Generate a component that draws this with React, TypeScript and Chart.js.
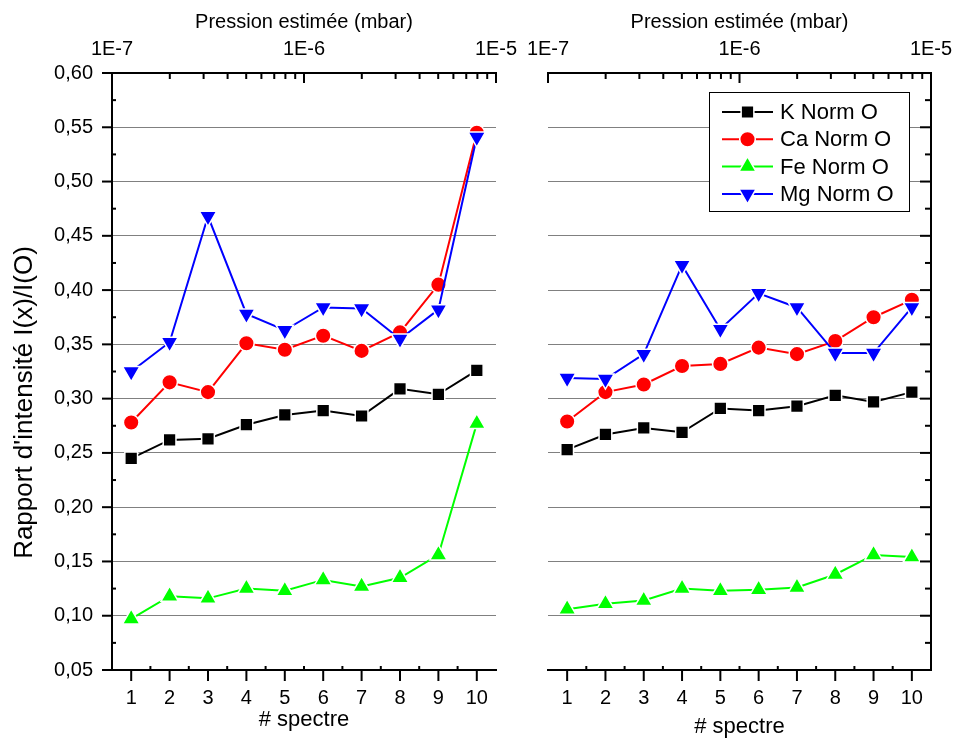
import React, { useEffect, useRef } from 'react';
import { Chart, registerables } from 'chart.js';

Chart.register(...registerables);

// ---------- data ----------
const SPECTRA = [1, 2, 3, 4, 5, 6, 7, 8, 9, 10];
const SERIES_NAMES = ['K Norm O', 'Ca Norm O', 'Fe Norm O', 'Mg Norm O'];

const LEFT_K = [0.245, 0.262, 0.263, 0.276, 0.285, 0.289, 0.284, 0.309, 0.304, 0.326];
const LEFT_CA = [0.278, 0.315, 0.306, 0.351, 0.345, 0.358, 0.344, 0.361, 0.405, 0.545];
const LEFT_FE = [0.097, 0.118, 0.116, 0.125, 0.123, 0.133, 0.127, 0.135, 0.156, 0.277];
const LEFT_MG = [0.325, 0.352, 0.468, 0.378, 0.363, 0.384, 0.383, 0.355, 0.382, 0.541];

const RIGHT_K = [0.253, 0.267, 0.273, 0.269, 0.291, 0.289, 0.293, 0.303, 0.297, 0.306];
const RIGHT_CA = [0.279, 0.306, 0.313, 0.330, 0.332, 0.347, 0.341, 0.353, 0.375, 0.391];
const RIGHT_FE = [0.106, 0.111, 0.114, 0.125, 0.123, 0.124, 0.126, 0.138, 0.156, 0.154];
const RIGHT_MG = [0.319, 0.318, 0.341, 0.423, 0.364, 0.397, 0.384, 0.342, 0.342, 0.384];

const Y_TICKS = [0.05, 0.1, 0.15, 0.2, 0.25, 0.3, 0.35, 0.4, 0.45, 0.5, 0.55, 0.6];
const Y_MIN = 0.05;
const Y_MAX = 0.6;
const PRESSURE_MIN = 1e-7;
const PRESSURE_MAX = 1e-5;
const PRESSURE_TICKS = [1e-7, 1e-6, 1e-5];
const PRESSURE_LABELS = ['1E-7', '1E-6', '1E-5'];

const X_TITLE = '# spectre';
const TOP_TITLE = 'Pression estimée (mbar)';
const Y_TITLE = "Rapport d'intensité I(x)/I(O)";

// ---------- styles ----------
const COLORS = ['#000000', '#ff0000', '#00ff00', '#0000ff'];
const POINT_STYLES = ['rect', 'circle', 'triangle', 'triangle'];
const POINT_ROT = [0, 0, 0, 180];
const POINT_RADII = [9, 7.8, 10, 10];
const FONT = "'Liberation Sans', Arial, Helvetica, sans-serif";

Chart.defaults.font.family = FONT;
Chart.defaults.color = '#000';

function drawMarker(ctx: CanvasRenderingContext2D, i: number, x: number, y: number) {
  const r = POINT_RADII[i];
  ctx.save();
  ctx.fillStyle = COLORS[i];
  ctx.strokeStyle = '#ffffff';
  ctx.lineWidth = 1.5;
  ctx.beginPath();
  if (POINT_STYLES[i] === 'rect') {
    const s = Math.SQRT1_2 * r;
    ctx.rect(x - s, y - s, 2 * s, 2 * s);
  } else if (POINT_STYLES[i] === 'circle') {
    ctx.arc(x, y, r, 0, Math.PI * 2);
  } else {
    let rad = (POINT_ROT[i] * Math.PI) / 180;
    ctx.moveTo(x + Math.sin(rad) * r, y - Math.cos(rad) * r);
    rad += (2 * Math.PI) / 3;
    ctx.lineTo(x + Math.sin(rad) * r, y - Math.cos(rad) * r);
    rad += (2 * Math.PI) / 3;
    ctx.lineTo(x + Math.sin(rad) * r, y - Math.cos(rad) * r);
    ctx.closePath();
  }
  ctx.fill();
  ctx.stroke();
  ctx.restore();
}

function makeDecorPlugin(side: 'left' | 'right') {
  return {
    id: 'decor' + side,
    afterDraw(chart: any) {
      const ctx: CanvasRenderingContext2D = chart.ctx;
      const a = chart.chartArea;
      const xs = chart.scales.x;
      const xt = chart.scales.xTop;
      const ys = chart.scales.y;
      ctx.save();
      ctx.strokeStyle = '#000';
      ctx.lineWidth = 2;
      ctx.lineCap = 'butt';
      const seg = (x1: number, y1: number, x2: number, y2: number) => {
        ctx.beginPath();
        ctx.moveTo(x1, y1);
        ctx.lineTo(x2, y2);
        ctx.stroke();
      };
      // bottom axis ticks
      SPECTRA.forEach((v) => {
        const p = xs.getPixelForValue(v);
        seg(p, a.bottom, p, a.bottom + 11);
      });
      for (let k = 1; k < SPECTRA.length; k++) {
        const p = xs.getPixelForValue(SPECTRA[k - 1] + 0.5);
        seg(p, a.bottom, p, a.bottom - 4);
      }
      // top (log) axis ticks
      const d0 = Math.round(Math.log10(PRESSURE_MIN));
      const d1 = Math.round(Math.log10(PRESSURE_MAX));
      for (let d = d0; d <= d1; d++) {
        const base = Math.pow(10, d);
        const p = xt.getPixelForValue(base);
        seg(p, a.top, p, a.top + 10);
        if (d < d1) {
          for (let m = 2; m <= 9; m++) {
            const pm = xt.getPixelForValue(m * base);
            seg(pm, a.top, pm, a.top + 6);
          }
        }
      }
      // y axis ticks
      Y_TICKS.forEach((v, k) => {
        const p = ys.getPixelForValue(v);
        if (side === 'left') seg(a.left - 10, p, a.left, p);
        else seg(a.right - 11, p, a.right, p);
        if (k < Y_TICKS.length - 1) {
          const pm = ys.getPixelForValue((v + Y_TICKS[k + 1]) / 2);
          if (side === 'left') seg(a.left, pm, a.left + 4, pm);
          else seg(a.right - 6, pm, a.right, pm);
        }
      });
      ctx.restore();

      if (side === 'left') {
        ctx.save();
        ctx.translate(a.left - 87, (a.top + a.bottom) / 2 + 31);
        ctx.rotate(-Math.PI / 2);
        ctx.fillStyle = '#000';
        ctx.font = `26px ${FONT}`;
        ctx.textAlign = 'center';
        ctx.textBaseline = 'middle';
        ctx.fillText(Y_TITLE, 0, 0);
        ctx.restore();
      } else {
        const bx = a.right - 222;
        const by = a.top + 19;
        const bw = 200;
        const bh = 119;
        ctx.save();
        ctx.fillStyle = '#fff';
        ctx.fillRect(bx, by, bw, bh);
        ctx.strokeStyle = '#000';
        ctx.lineWidth = 1;
        ctx.strokeRect(bx + 0.5, by + 0.5, bw, bh);
        SERIES_NAMES.forEach((name, i) => {
          const cy = by + 20 + i * 27.3;
          ctx.strokeStyle = COLORS[i];
          ctx.lineWidth = 2;
          seg(bx + 13, cy, bx + 64, cy);
          drawMarker(ctx, i, bx + 38.5, cy);
          ctx.fillStyle = '#000';
          ctx.font = `22px ${FONT}`;
          ctx.textAlign = 'left';
          ctx.textBaseline = 'middle';
          ctx.fillText(name, bx + 71, cy + 1);
        });
        ctx.restore();
      }
    },
  };
}

function makeConfig(side: 'left' | 'right', values: number[][]): any {
  const datasets = values.map((vals, i) => ({
    label: SERIES_NAMES[i],
    data: SPECTRA.map((s, j) => ({ x: s, y: vals[j] })),
    borderColor: COLORS[i],
    backgroundColor: COLORS[i],
    borderWidth: 2,
    pointStyle: POINT_STYLES[i],
    pointRotation: POINT_ROT[i],
    pointRadius: POINT_RADII[i],
    pointBackgroundColor: COLORS[i],
    pointBorderColor: '#ffffff',
    pointBorderWidth: 1.5,
    tension: 0,
    order: values.length - i,
    xAxisID: 'x',
    yAxisID: 'y',
  }));

  const zeroH = (s: any) => {
    s.paddingLeft = 0;
    s.paddingRight = 0;
  };

  return {
    type: 'line',
    data: { datasets },
    options: {
      animation: false,
      responsive: false,
      events: [],
      layout: {
        padding: side === 'left' ? { left: 0, right: 24, top: 0, bottom: 0 } : { left: 28, right: 0, top: 0, bottom: 0 },
      },
      plugins: { legend: { display: false }, tooltip: { enabled: false } },
      scales: {
        x: {
          type: 'linear',
          position: 'bottom',
          min: 0.5,
          max: 10.5,
          afterBuildTicks: (s: any) => {
            s.ticks = SPECTRA.map((v) => ({ value: v }));
          },
          afterFit: (s: any) => {
            s.height = 68;
            zeroH(s);
          },
          grid: { display: false, drawTicks: false },
          border: { display: true, color: '#000', width: 2 },
          ticks: {
            color: '#000',
            font: { size: 20 },
            padding: 16,
            maxRotation: 0,
            autoSkip: false,
            callback: (v: any) => String(v),
          },
          title: {
            display: true,
            text: X_TITLE,
            color: '#000',
            font: { size: 22, lineHeight: 1 },
            padding: { top: 0, bottom: side === 'left' ? 7 : 0 },
          },
        },
        xTop: {
          type: 'logarithmic',
          position: 'top',
          min: PRESSURE_MIN,
          max: PRESSURE_MAX,
          afterBuildTicks: (s: any) => {
            s.ticks = PRESSURE_TICKS.map((v) => ({ value: v }));
          },
          afterFit: (s: any) => {
            s.height = 73;
            zeroH(s);
          },
          grid: { display: false, drawTicks: false },
          border: { display: true, color: '#000', width: 2 },
          ticks: {
            color: '#000',
            font: { size: 20 },
            padding: 12,
            maxRotation: 0,
            autoSkip: false,
            callback: (_v: any, i: number) => PRESSURE_LABELS[i],
          },
          title: {
            display: true,
            text: TOP_TITLE,
            color: '#000',
            font: { size: 20 },
            padding: { top: 10, bottom: 0 },
          },
        },
        y: {
          type: 'linear',
          position: side,
          min: Y_MIN,
          max: Y_MAX,
          afterBuildTicks: (s: any) => {
            s.ticks = Y_TICKS.map((v) => ({ value: v }));
          },
          afterFit: (s: any) => {
            s.width = side === 'left' ? 112 : 25;
            s.paddingTop = 0;
            s.paddingBottom = 0;
          },
          grid: { display: true, color: '#808080', lineWidth: 1, drawTicks: false },
          border: { display: true, color: '#000', width: 2 },
          ticks: {
            display: side === 'left',
            color: '#000',
            font: { size: 20 },
            padding: 19,
            callback: (v: any) => Number(v).toFixed(2).replace('.', ','),
          },
        },
      },
    },
    plugins: [makeDecorPlugin(side)],
  };
}

export default function App() {
  const leftRef = useRef<HTMLCanvasElement>(null);
  const rightRef = useRef<HTMLCanvasElement>(null);

  useEffect(() => {
    const c1 = new Chart(leftRef.current as HTMLCanvasElement, makeConfig('left', [LEFT_K, LEFT_CA, LEFT_FE, LEFT_MG]));
    const c2 = new Chart(rightRef.current as HTMLCanvasElement, makeConfig('right', [RIGHT_K, RIGHT_CA, RIGHT_FE, RIGHT_MG]));
    return () => {
      c1.destroy();
      c2.destroy();
    };
  }, []);

  return (
    <div style={{ position: 'absolute', left: 0, top: 0, width: 956, height: 738, background: '#fff' }}>
      <canvas
        ref={leftRef}
        width={520}
        height={738}
        style={{ position: 'absolute', left: 0, top: 0, width: 520, height: 738 }}
      />
      <canvas
        ref={rightRef}
        width={436}
        height={738}
        style={{ position: 'absolute', left: 520, top: 0, width: 436, height: 738 }}
      />
    </div>
  );
}
